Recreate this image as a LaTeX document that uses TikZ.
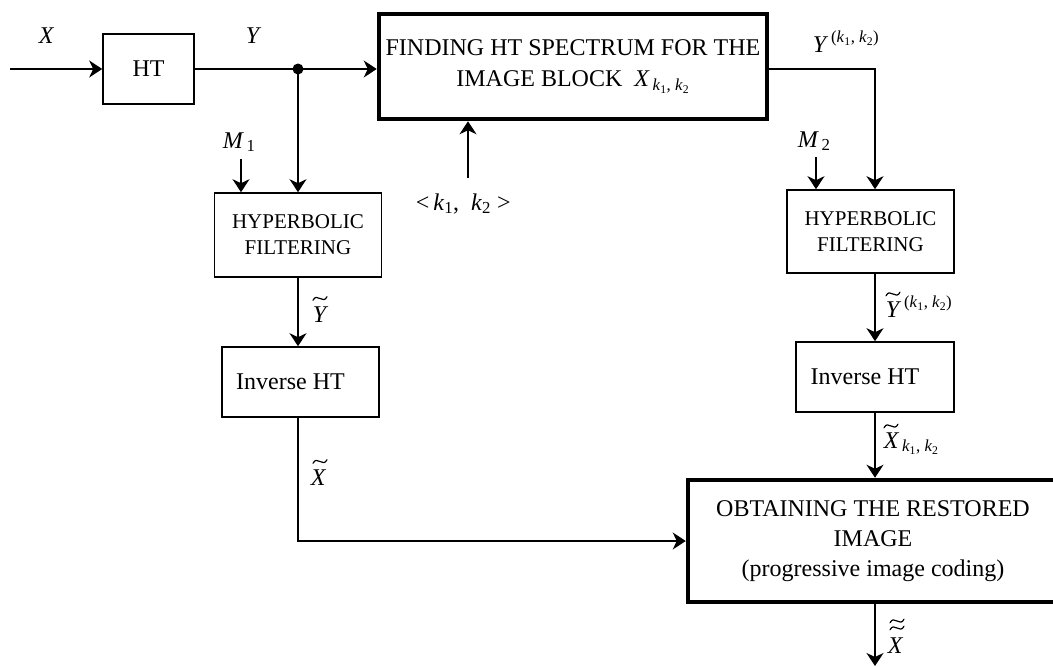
\documentclass[tikz,border=0pt]{standalone}
\usepackage{fontspec}
\setmainfont{Liberation Serif}
\usetikzlibrary{arrows.meta}
\newcommand\kk{\textit{k}\textsubscript{1}, \textit{k}\textsubscript{2}}
\begin{document}
\begin{tikzpicture}[x=1pt,y=-1pt,
  line width=1.6pt,
  arr/.style={-{Stealth[length=13pt,width=17pt,inset=4pt]}},
  blk/.style={draw, line width=1.6pt, inner sep=0pt, align=center, font=\fontsize{24}{28}\selectfont},
  bigblk/.style={blk, line width=4.5pt},
  lab/.style={inner sep=0pt, anchor=base west, font=\fontsize{24}{28}\selectfont},
  tld/.pic={\draw[line width=1.2pt, line cap=round] (-7,1.8) .. controls (-3,-6.5) and (3,6.5) .. (7,-1.8);}]
\useasboundingbox (0,0) rectangle (1053,667);
% blocks
\node[blk, minimum width=91pt, minimum height=70pt] (ht) at (148.5,69) {HT};
\node[bigblk, minimum width=388pt, minimum height=105pt] (find) at (573,66.5)
  {FINDING HT SPECTRUM FOR THE\\[3pt] IMAGE BLOCK \ \textit{X}\textsubscript{\,\kk}};
\node[blk, minimum width=167pt, minimum height=84pt, font=\fontsize{21}{26}\selectfont] (hf1) at (298,235) {HYPERBOLIC\\FILTERING};
\node[blk, minimum width=157pt, minimum height=70pt] (ih1) at (300.5,382) {Inverse HT\hspace{20pt}};
\node[blk, minimum width=167pt, minimum height=83pt, font=\fontsize{21}{26}\selectfont] (hf2) at (870.5,231.5) {HYPERBOLIC\\FILTERING};
\node[blk, minimum width=158pt, minimum height=70pt] (ih2) at (875,377) {Inverse HT\hspace{20pt}};
\node[bigblk, minimum width=370pt, minimum height=122pt] (rest) at (873,541)
  {OBTAINING THE RESTORED\\[2pt] IMAGE\\[2pt] (progressive image coding)};
\fill (298,69) circle (5.5pt) coordinate (dot);
% coordinates
\coordinate (in) at (10,69);
\coordinate (m1s) at (241,159);
\coordinate (m2s) at (816,157);
\coordinate (ks) at (468,178);
\coordinate (c2) at (875,0);
\coordinate (out) at (875,666);
% connectors
\draw[arr] (in) -- (ht);
\draw (ht) -- (dot);
\draw[arr] (dot) -- (dot -| find.west);
\draw[arr] (dot) -- (dot |- hf1.north);
\draw[arr] (m1s) -- (m1s |- hf1.north);
\draw[arr] (ks) -- (ks |- find.south);
\draw[arr] (hf1.south) -- (hf1.south |- ih1.north);
\draw[arr] (ih1.south -| dot) |- (rest.west);
\draw[arr] (find.east |- dot) -| (c2 |- hf2.north);
\draw[arr] (m2s) -- (m2s |- hf2.north);
\draw[arr] (c2 |- hf2.south) -- (c2 |- ih2.north);
\draw[arr] (c2 |- ih2.south) -- (c2 |- rest.north);
\draw[arr] (c2 |- rest.south) -- (out);
% labels
\node[lab] (lx) at (38,43) {\textit{X}};
\node[lab] (ly) at (245,43) {\textit{Y}};
\node[lab] (lm1) at (222,148) {\textit{M}\textsubscript{\,1}};
\node[lab] (lm2) at (797,147) {\textit{M}\textsubscript{\,2}};
\node[lab] (lyk) at (812,52) {\textit{Y}\textsuperscript{\,(\kk)}};
\node[lab] (lkk) at (415,210) {<\,\textit{k}\textsubscript{1},\ \ \textit{k}\textsubscript{2} >};
\node[lab] (lyt) at (312,322) {\textit{Y}};
\node[lab] (lytk) at (885,317) {\textit{Y}\textsuperscript{\,(\kk)}};
\node[lab] (lxtk) at (883,448) {\textit{X}\textsubscript{\,\kk}};
\node[lab] (lxt) at (310,485) {\textit{X}};
\node[lab] (lxtt) at (887,653) {\textit{X}};
% tildes
\pic at (320,298.5) {tld};
\pic at (893,294) {tld};
\pic at (891,426) {tld};
\pic at (320,461.5) {tld};
\pic at (897,621) {tld};
\pic at (897,628) {tld};
\end{tikzpicture}
\end{document}
